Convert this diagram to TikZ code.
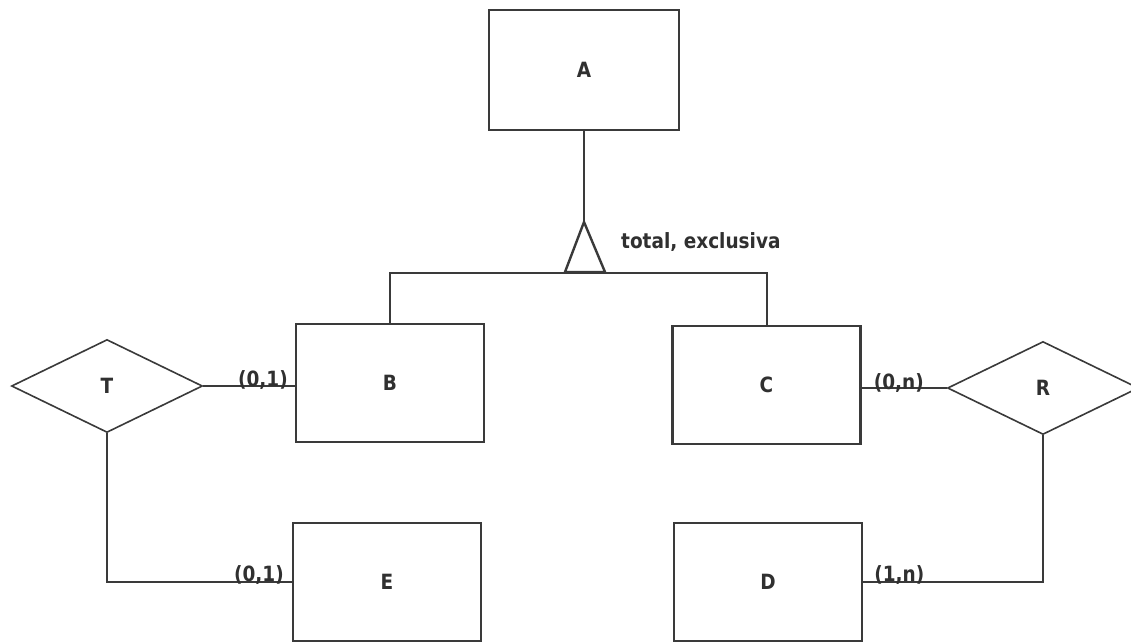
\documentclass[tikz,border=0pt]{standalone}
\usepackage{fontspec}
\setmainfont{DejaVu Sans}[FakeStretch=0.88]
\usetikzlibrary{shapes.geometric}
\definecolor{ln}{HTML}{3A3A3A}
\definecolor{tx}{HTML}{303030}
\begin{document}
\begin{tikzpicture}[x=1pt,y=-1pt,
  entity/.style={draw=ln, line width=2.2pt, minimum width=188pt, minimum height=118pt,
    inner sep=0pt, text=tx, font=\bfseries\fontsize{21}{24}\selectfont},
  rel/.style={draw=ln, line width=1.6pt, diamond, minimum width=191pt, minimum height=93pt,
    inner sep=0pt, text=tx, font=\bfseries\fontsize{21}{24}\selectfont},
  conn/.style={draw=ln, line width=2pt},
  card/.style={inner sep=0pt, text=tx, font=\bfseries\fontsize{21}{24}\selectfont},
  lbl/.style={inner sep=0pt, text=tx, font=\bfseries\fontsize{21}{24}\selectfont}]
\useasboundingbox (0,0) rectangle (1131,643);
\fill[white] (0,0) rectangle (1131,643);

\node[entity, minimum width=190pt, minimum height=120pt] (A) at (584,70) {A};
\node[entity] (B) at (390,383) {B};
\node[entity] (C) at (766.5,385) {C};
\node[entity] (E) at (387,582) {E};
\node[entity] (D) at (768,582) {D};
\node[rel] (T) at (107,386) {T};
\node[rel] (R) at (1043,388) {R};

% specialization triangle
\coordinate (apex) at (584,222);
\coordinate (bl) at (565,272);
\coordinate (br) at (605,272);
\coordinate (bar) at (584,273);
\draw[conn] (A.south) -- (apex);
\draw[conn, line width=2.4pt, line join=miter] (apex) -- (bl) -- (br) -- cycle;
\draw[conn] (B.north) |- (bar) -| (C.north);
\node[lbl, anchor=west] (tl) at (621,242) {total, exclusiva};

% relationships
\draw[conn] (T.east) -- (T.east -| B.west);
\draw[conn] (T.south) |- (E.west);
\draw[conn] (R.west -| C.east) -- (R.west);
\draw[conn] (R.south) |- (D.east);

% cardinalities
\node[card, anchor=south east] (c1) at ([xshift=-7pt,yshift=-4pt]T.east -| B.west) {(0,1)};
\node[card, anchor=south west] (c2) at ([xshift=12pt,yshift=-5pt]R.west -| C.east) {(0,n)};
\node[card, anchor=south east] (c3) at ([xshift=-8pt,yshift=-3pt]E.west) {(0,1)};
\node[card, anchor=south west] (c4) at ([xshift=11pt,yshift=-3pt]D.east) {(1,n)};
\end{tikzpicture}
\end{document}
